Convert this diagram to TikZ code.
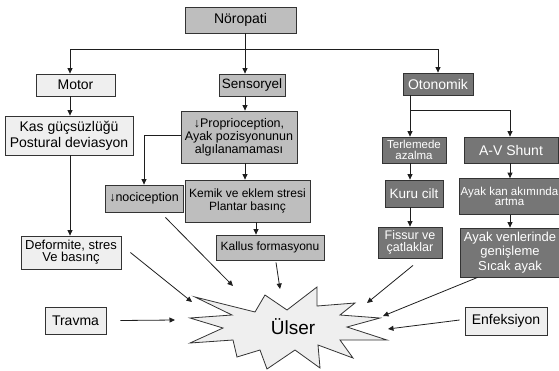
\documentclass[tikz,border=0pt]{standalone}
\usepackage{fontspec}
\setmainfont{Liberation Sans}
\usetikzlibrary{arrows.meta}
\definecolor{bd}{HTML}{333333}
\definecolor{cl}{HTML}{EFEFEF}
\definecolor{cm}{HTML}{BEBEBE}
\definecolor{cd}{HTML}{767676}
\definecolor{ln}{HTML}{1E1E1E}
\begin{document}
\begin{tikzpicture}[x=1pt,y=-1pt,
  box/.style={draw=bd, line width=0.8pt, inner sep=0pt, align=center, text=black},
  lt/.style={box, fill=cl},
  md/.style={box, fill=cm},
  dk/.style={box, fill=cd, text=white},
  arr/.style={draw=ln, line width=0.8pt, -{Triangle[length=5.5pt,width=5pt]}},
  ln/.style={draw=ln, line width=0.8pt}]
\useasboundingbox (0,0) rectangle (559,370);

% top
\node[md, minimum width=111, minimum height=26, font=\fontsize{14}{16}\selectfont] (nor) at (240.5,20) {Nöropati};
\node[lt, minimum width=79, minimum height=22, font=\fontsize{14}{16}\selectfont] (mot) at (75.5,85) {Motor};
\node[md, minimum width=66, minimum height=22, font=\fontsize{13.5}{16}\selectfont] (sens) at (252,85) {Sensoryel};
\node[dk, minimum width=70, minimum height=22, font=\fontsize{14}{16}\selectfont] (oto) at (438,84) {Otonomik};

% motor column
\node[lt, minimum width=128, minimum height=39, font=\fontsize{14}{16}\selectfont] (kas) at (69,135.5) {Kas güçsüzlüğü\\Postural deviasyon};
\node[lt, minimum width=100, minimum height=33, font=\fontsize{13}{11}\selectfont] (def) at (71,252.5) {Deformite, stres\\Ve basınç};

% sensory column
\node[md, minimum width=116, minimum height=52, font=\fontsize{12.5}{13}\selectfont] (prop) at (239,137) {↓Proprioception,\\Ayak pozisyonunun\\algılanamaması};
\node[md, minimum width=78, minimum height=27, font=\fontsize{12.5}{15}\selectfont] (noc) at (144,198.5) {↓nociception};
\node[md, minimum width=125, minimum height=42, font=\fontsize{12}{13}\selectfont] (kem) at (247.5,201) {Kemik ve eklem stresi\\Plantar basınç};
\node[md, minimum width=108, minimum height=25, font=\fontsize{12}{14}\selectfont] (kal) at (270,247.5) {Kallus formasyonu};

% autonomic column
\node[dk, minimum width=64, minimum height=26, font=\fontsize{11.5}{10.5}\selectfont] (ter) at (414,150) {Terlemede\\azalma};
\node[dk, minimum width=94, minimum height=26, font=\fontsize{14}{16}\selectfont] (avs) at (511,150) {A-V Shunt};
\node[dk, minimum width=58, minimum height=27, font=\fontsize{13.5}{16}\selectfont] (kur) at (414,193.5) {Kuru cilt};
\node[dk, minimum width=100, minimum height=36, font=\fontsize{11.5}{10.5}\selectfont] (akan) at (509.5,196.5) {Ayak kan akımında\\artma};
\node[dk, minimum width=64, minimum height=31, font=\fontsize{12.5}{12}\selectfont] (fis) at (410,242.5) {Fissur ve\\çatlaklar};
\node[dk, minimum width=100, minimum height=49, font=\fontsize{13}{14.5}\selectfont] (aven) at (510,252.5) {Ayak venlerinde\\genişleme\\Sıcak ayak};

% bottom
\node[lt, minimum width=61, minimum height=27, font=\fontsize{14}{16}\selectfont] (tra) at (75.5,320.5) {Travma};
\node[lt, minimum width=82, minimum height=28, font=\fontsize{14}{16}\selectfont] (enf) at (506,321) {Enfeksiyon};

% star
\draw[draw=bd, line width=0.8pt, fill=cl, line join=miter]
  (195,297) -- (255,312) -- (265,295) -- (287,310) -- (317,287) -- (317,306)
  -- (355,303) -- (340,315) -- (380,318) -- (347,327) -- (387,340) -- (340,340)
  -- (353,358) -- (318,345) -- (320,368) -- (295,350) -- (267,369) -- (260,350)
  -- (237,357) -- (233,340) -- (190,343) -- (223,328) -- (190,318) -- (232,315) -- cycle;
\node[inner sep=0pt, font=\fontsize{19}{22}\selectfont] (ulser) at (293,327) {Ülser};

% helper columns
\coordinate (j) at (245,49);
\coordinate (cA) at (70,0);
\coordinate (cC) at (256,0);
\coordinate (ob) at (410,110);
\coordinate (ob2) at (510,110);

% top connectors
\draw[arr] (nor.south -| j) -- (sens.north -| j);
\draw[ln] (j -| cA) -- (j -| oto.north);
\draw[arr] (j -| cA) -- (mot.north -| cA);
\draw[arr] (j -| oto.north) -- (oto.north);

% motor
\draw[arr] (mot.south -| cA) -- (kas.north -| cA);
\draw[arr] (kas.south -| cA) -- (def.north -| cA);

% sensory
\draw[arr] (sens.south -| j) -- (prop.north -| j);
\draw[arr] ([yshift=2]prop.west) -| (noc.north);
\draw[arr] (prop.south -| j) -- (kem.north -| j);
\draw[arr] (kem.south -| cC) -- (kal.north -| cC);

% autonomic
\draw[ln] (oto.south -| ob) -- (ob);
\draw[arr] (ob) -- (ter.north -| ob);
\draw[arr] (ob) -- (ob2) -- (avs.north -| ob2);
\draw[arr] (ter.south -| ob) -- (kur.north -| ob);
\draw[arr] (kur.south -| ob) -- (fis.north -| ob);
\draw[arr] (avs.south -| ob2) -- (akan.north -| ob2);
\draw[arr] (akan.south -| ob2) -- (aven.north -| ob2);

% arrows into ulser
\coordinate (t1) at (192,302);
\coordinate (t2) at (233,286);
\coordinate (t3) at (280,289);
\coordinate (t4) at (367,303);
\coordinate (t5) at (383,316);
\coordinate (t6) at (388,329);
\coordinate (t7) at (175,320);
\draw[arr] ([xshift=9]def.east) -- (t1);
\draw[arr] ([shift={(-18,5)}]noc.south east) -- (t2);
\draw[arr] ([shift={(6,2)}]kal.south) -- (t3);
\draw[arr] ([shift={(3,7)}]fis.south) -- (t4);
\draw[arr] ([xshift=18]aven.south west) -- (t5);
\draw[arr] ([shift={(-5,-1)}]enf.west) -- (t6);
\draw[arr] ([xshift=14]tra.east) -- (t7);
\end{tikzpicture}
\end{document}
